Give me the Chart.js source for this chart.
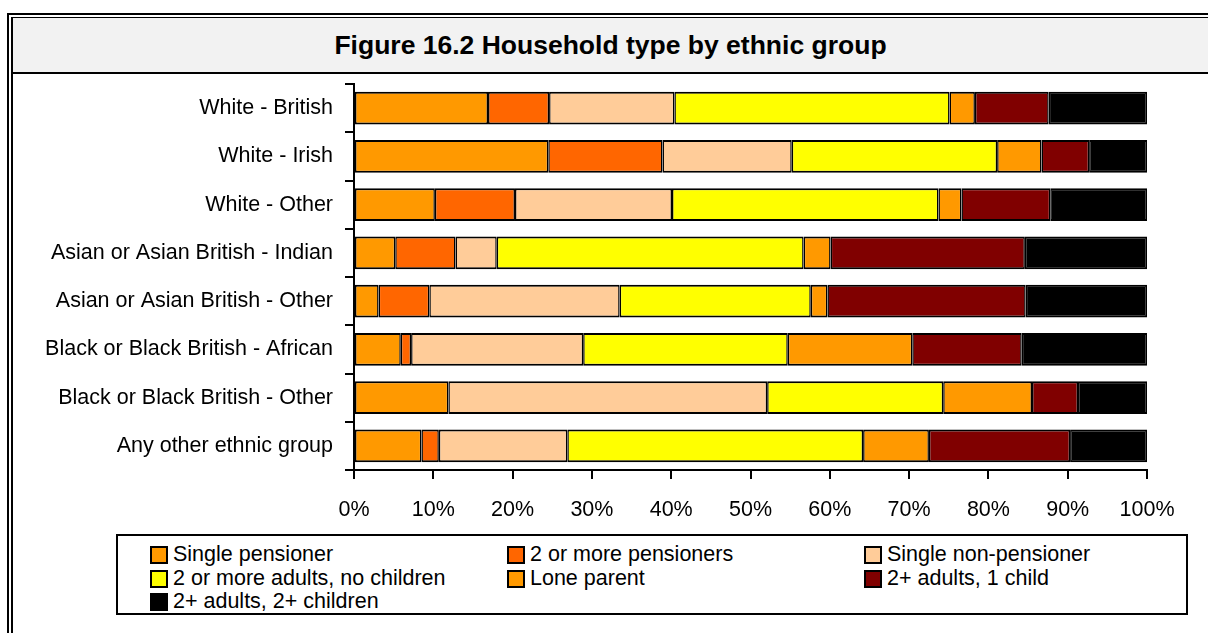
<!DOCTYPE html>
<html>
<head>
<meta charset="utf-8">
<script src="https://cdn.jsdelivr.net/npm/chart.js@4.4.1/dist/chart.umd.min.js"></script>
<style>
  html { overflow: hidden; }
  body { margin: 0; background: #fff; width: 1208px; height: 633px; overflow: hidden; position: relative; font-family: "Liberation Sans", Arial, sans-serif; }
  .frameOuter { position: absolute; left: 7px; top: 13px; width: 1201px; height: 620px; border-left: 2px solid #000; border-top: 2px solid #000; }
  .frameInner { position: absolute; left: 11px; top: 17px; width: 1197px; height: 616px; border-left: 2px solid #000; border-top: 1px solid #000; }
  .titleBand { position: absolute; left: 13px; top: 18px; width: 1195px; height: 54px; background: #f2f2f2; border-bottom: 2px solid #000; }
  .title { position: absolute; left: 13px; top: 18px; width: 1195px; height: 54px; line-height: 54px; text-align: center; font-weight: bold; font-size: 26.5px; color: #000; }
  #wrap { position: absolute; left: 0; top: 74px; width: 1208px; height: 456px; }
  #legend { position: absolute; left: 116px; top: 534px; width: 1068px; height: 77px; border: 2px solid #000; background: #fff; }
  .item { position: absolute; height: 23px; line-height: 23px; font-size: 21.5px; color: #000; white-space: nowrap; }
  .box { position: absolute; left: -23px; top: 3px; width: 14px; height: 14px; border: 2px solid #000; }
</style>
</head>
<body>
<div class="frameOuter"></div>
<div class="frameInner"></div>
<div class="titleBand"></div>
<div class="title">Figure 16.2 Household type by ethnic group</div>
<div id="wrap"><canvas id="householdChart"></canvas></div>
<div id="legend"></div>
<script>
// ethnic groups (top to bottom)
const groups = [
  "White - British",
  "White - Irish",
  "White - Other",
  "Asian or Asian British - Indian",
  "Asian or Asian British - Other",
  "Black or Black British - African",
  "Black or Black British - Other",
  "Any other ethnic group"
];

// household types, % of households in each group
const singlePensioner    = [16.9, 24.5, 10.2,  5.2,  3.1,  5.9, 11.9,  8.5];
const twoPlusPensioners  = [ 7.7, 14.4, 10.1,  7.6,  6.4,  1.3,  0.0,  2.2];
const singleNonPensioner = [15.8, 16.3, 19.8,  5.2, 24.0, 21.7, 40.2, 16.2];
const adultsNoChildren   = [34.7, 25.9, 33.6, 38.7, 24.1, 25.8, 22.2, 37.3];
const loneParent         = [ 3.2,  5.6,  2.9,  3.4,  2.1, 15.7, 11.2,  8.3];
const adultsOneChild     = [ 9.3,  6.0, 11.2, 24.5, 25.0, 13.8,  5.8, 17.8];
const adultsTwoChildren  = [12.4,  7.3, 12.2, 15.4, 15.3, 15.8,  8.7,  9.7];

const seriesNames = [
  "Single pensioner",
  "2 or more pensioners",
  "Single non-pensioner",
  "2 or more adults, no children",
  "Lone parent",
  "2+ adults, 1 child",
  "2+ adults, 2+ children"
];
const seriesColors = ["#FF9900", "#FF6600", "#FFCC99", "#FFFF00", "#FF9900", "#800000", "#000000"];
const seriesData = [singlePensioner, twoPlusPensioners, singleNonPensioner, adultsNoChildren, loneParent, adultsOneChild, adultsTwoChildren];

const xTicks = [0, 10, 20, 30, 40, 50, 60, 70, 80, 90, 100];

const datasets = seriesNames.map((name, i) => ({
  label: name,
  data: seriesData[i],
  backgroundColor: seriesColors[i],
  borderColor: "#000",
  borderWidth: { top: 2, bottom: 2, left: 1.5, right: 1.5 },
  borderSkipped: false,
  barPercentage: 0.68,
  categoryPercentage: 1.0
}));

const font = { family: '"Liberation Sans", Arial, sans-serif', size: 21.5 };

new Chart(document.getElementById("householdChart"), {
  type: "bar",
  data: { labels: groups, datasets: datasets },
  options: {
    indexAxis: "y",
    responsive: true,
    maintainAspectRatio: false,
    animation: false,
    layout: { padding: { top: 10, right: 61, left: 0, bottom: 0 } },
    plugins: {
      legend: { display: false },
      tooltip: { enabled: false }
    },
    scales: {
      x: {
        stacked: true,
        min: 0,
        max: 100,
        afterBuildTicks: scale => { scale.ticks = xTicks.map(v => ({ value: v })); },
        afterFit: scale => { scale.height = 60; scale.paddingLeft = 0; scale.paddingRight = 0; },
        ticks: {
          color: "#000",
          font: font,
          padding: 18,
          maxRotation: 0,
          callback: v => v + "%"
        },
        grid: { drawOnChartArea: false, color: "#000", lineWidth: 2, tickLength: 9 },
        border: { display: true, color: "#000", width: 2 }
      },
      y: {
        stacked: true,
        afterFit: scale => { scale.width = 354; scale.paddingTop = 0; scale.paddingBottom = 0; },
        ticks: { color: "#000", font: font, padding: 12 },
        grid: { drawOnChartArea: false, color: "#000", lineWidth: 2, tickLength: 9, offset: true },
        border: { display: true, color: "#000", width: 2 }
      }
    }
  }
});

// legend in three columns, built from the series arrays
const legendEl = document.getElementById("legend");
const colX = [55, 412, 769];
const rowY = [7, 30.5, 54];
seriesNames.forEach((name, i) => {
  const item = document.createElement("div");
  item.className = "item";
  item.style.left = colX[i % 3] + "px";
  item.style.top = rowY[Math.floor(i / 3)] + "px";
  const box = document.createElement("span");
  box.className = "box";
  box.style.background = seriesColors[i];
  item.appendChild(box);
  item.appendChild(document.createTextNode(name));
  legendEl.appendChild(item);
});
</script>
</body>
</html>
